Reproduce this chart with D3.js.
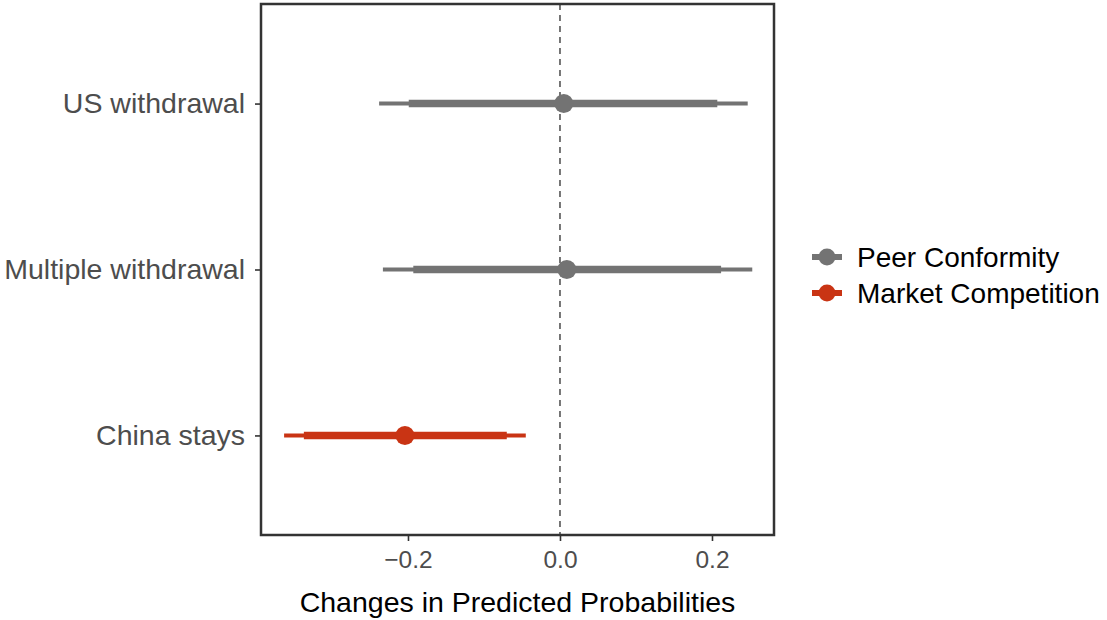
<!DOCTYPE html>
<html>
<head>
<meta charset="utf-8">
<script src="https://d3js.org/d3.v7.min.js"></script>
<style>
  body { margin: 0; background: #fff; }
  text { font-family: "Liberation Sans", Arial, sans-serif; }
</style>
</head>
<body>
<div id="chart"></div>
<script>
// data
var categories = ["US withdrawal", "Multiple withdrawal", "China stays"];
var groups = ["Peer Conformity", "Peer Conformity", "Market Competition"];
var estimates = [0.005, 0.009, -0.204];
var lo90 = [-0.199, -0.193, -0.337], hi90 = [0.207, 0.212, -0.070];
var lo95 = [-0.238, -0.233, -0.363], hi95 = [0.247, 0.253, -0.045];
var legendItems = ["Peer Conformity", "Market Competition"];
var xTicks = [-0.2, 0.0, 0.2];

var colors = {"Peer Conformity": "#737373", "Market Competition": "#c93414"};

var width = 1107, height = 620;
var panel = {left: 261, right: 774, top: 4, bottom: 535};

var svg = d3.select("#chart").append("svg")
    .attr("width", width).attr("height", height);

var x = d3.scaleLinear().domain([-0.3934, 0.2816]).range([panel.left, panel.right]);
var y = d3.scalePoint().domain(categories).range([panel.top, panel.bottom]).padding(0.6);

var rows = categories.map(function(c, i) {
  return {cat: c, grp: groups[i], est: estimates[i], l90: lo90[i], h90: hi90[i], l95: lo95[i], h95: hi95[i]};
});

// zero line
svg.append("line")
    .attr("x1", x(0)).attr("x2", x(0))
    .attr("y1", panel.top).attr("y2", panel.bottom)
    .attr("stroke", "#555").attr("stroke-width", 1.6)
    .attr("stroke-dasharray", "6,5");

// thin intervals
svg.selectAll(".ci95").data(rows).enter().append("line")
    .attr("x1", function(d) { return x(d.l95); })
    .attr("x2", function(d) { return x(d.h95); })
    .attr("y1", function(d) { return y(d.cat); })
    .attr("y2", function(d) { return y(d.cat); })
    .attr("stroke", function(d) { return colors[d.grp]; })
    .attr("stroke-width", 4);

// thick intervals
svg.selectAll(".ci90").data(rows).enter().append("line")
    .attr("x1", function(d) { return x(d.l90); })
    .attr("x2", function(d) { return x(d.h90); })
    .attr("y1", function(d) { return y(d.cat); })
    .attr("y2", function(d) { return y(d.cat); })
    .attr("stroke", function(d) { return colors[d.grp]; })
    .attr("stroke-width", 7.5);

svg.selectAll(".pt").data(rows).enter().append("circle")
    .attr("cx", function(d) { return x(d.est); })
    .attr("cy", function(d) { return y(d.cat); })
    .attr("r", 9.5)
    .attr("fill", function(d) { return colors[d.grp]; });

// panel border
svg.append("rect")
    .attr("x", panel.left).attr("y", panel.top)
    .attr("width", panel.right - panel.left).attr("height", panel.bottom - panel.top)
    .attr("fill", "none").attr("stroke", "#333").attr("stroke-width", 2.5);

// axes
var xAxis = svg.append("g")
    .attr("transform", "translate(0," + panel.bottom + ")")
    .call(d3.axisBottom(x).tickValues(xTicks).tickSize(6).tickPadding(10)
      .tickFormat(function(d) { return d3.format(".1f")(d).replace("-", "\u2013"); }));
xAxis.select(".domain").remove();
xAxis.selectAll("line").attr("stroke", "#333").attr("stroke-width", 1.6);
xAxis.selectAll("text").attr("fill", "#4d4d4d").style("font-size", "24.5px")
    .style("font-family", "Liberation Sans, Arial, sans-serif");

var yAxis = svg.append("g")
    .attr("transform", "translate(" + panel.left + ",0)")
    .call(d3.axisLeft(y).tickSize(6).tickPadding(10));
yAxis.select(".domain").remove();
yAxis.selectAll("line").attr("stroke", "#333").attr("stroke-width", 1.6);
yAxis.selectAll("text").attr("fill", "#4d4d4d").style("font-size", "28.5px")
    .style("font-family", "Liberation Sans, Arial, sans-serif");

svg.append("text")
    .attr("x", (panel.left + panel.right) / 2).attr("y", 612)
    .attr("text-anchor", "middle")
    .style("font-size", "28.5px")
    .text("Changes in Predicted Probabilities");

// legend
var legend = svg.append("g").attr("transform", "translate(812,257)");
var li = legend.selectAll("g").data(legendItems).enter().append("g")
    .attr("transform", function(d, i) { return "translate(0," + i * 36 + ")"; });
li.append("line").attr("x1", 0).attr("x2", 30)
    .attr("stroke", function(d) { return colors[d]; }).attr("stroke-width", 6);
li.append("circle").attr("cx", 15).attr("r", 8.5)
    .attr("fill", function(d) { return colors[d]; });
li.append("text").attr("x", 45).attr("dy", "0.35em")
    .style("font-size", "28px")
    .text(function(d) { return d; });
</script>
</body>
</html>
